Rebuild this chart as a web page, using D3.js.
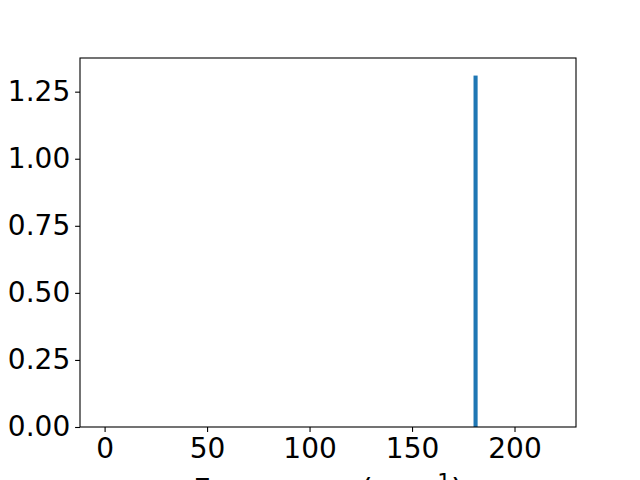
<!DOCTYPE html>
<html lang="en">
<head>
  <meta charset="UTF-8" />
  <title>Spectrum</title>
  <script src="https://d3js.org/d3.v7.min.js"></script>
  <style>
    body { margin: 0; background: #fff; }
    svg text { font-family: "DejaVu Sans", sans-serif; fill: #000; }
  </style>
</head>
<body>
  <svg width="640" height="480"></svg>
  <script>
    // data
    const frequencies = [181];
    const intensities = [1.31];
    const barWidth = 2;
    const xTicks = [0, 50, 100, 150, 200];
    const yTicks = [0, 0.25, 0.5, 0.75, 1.0, 1.25];

    const svg = d3.select("svg");
    const m = { left: 80, right: 576, top: 58, bottom: 427 };
    const fs = 28;

    const x = d3.scaleLinear().domain([-12, 230]).range([m.left, m.right]);
    const y = d3.scaleLinear().domain([0, 1.31 * 1.05]).range([m.bottom, m.top]);

    // bars
    svg.selectAll("rect.bar")
      .data(frequencies)
      .enter()
      .append("rect")
      .attr("class", "bar")
      .attr("x", (d) => x(d - barWidth / 2))
      .attr("width", (d) => x(d + barWidth / 2) - x(d - barWidth / 2))
      .attr("y", (d, i) => y(intensities[i]))
      .attr("height", (d, i) => y(0) - y(intensities[i]))
      .attr("fill", "#1f77b4");

    // axes
    const xAxis = d3.axisBottom(x).tickValues(xTicks).tickSize(4.9).tickPadding(4.9).tickFormat(d3.format("d"));
    const yAxis = d3.axisLeft(y).tickValues(yTicks).tickSize(4.9).tickPadding(4.9).tickFormat(d3.format(".2f"));

    const gx = svg.append("g").attr("transform", `translate(0,${m.bottom})`).call(xAxis);
    const gy = svg.append("g").attr("transform", `translate(${m.left},0)`).call(yAxis);
    [gx, gy].forEach((g) => {
      g.attr("font-size", fs).attr("font-family", "DejaVu Sans");
      g.select(".domain").remove();
      g.selectAll(".tick line").attr("stroke", "#000").attr("stroke-width", 1.1);
      g.selectAll(".tick text").attr("fill", "#000");
    });
    gx.selectAll(".tick text").attr("dy", "0.76em");

    // frame
    svg.append("rect")
      .attr("x", m.left).attr("y", m.top)
      .attr("width", m.right - m.left).attr("height", m.bottom - m.top)
      .attr("fill", "none").attr("stroke", "#000").attr("stroke-width", 1.1);

    // x label (mostly below the bottom edge, as in the reference)
    const label = svg.append("text")
      .attr("x", (m.left + m.right) / 2)
      .attr("y", 500)
      .attr("font-size", 30.6)
      .attr("text-anchor", "middle");
    label.append("tspan").text("Frequency (");
    label.append("tspan").attr("font-style", "italic").text("cm");
    label.append("tspan").attr("dy", -11.5).attr("font-size", 21.4).text("−1");
    label.append("tspan").attr("dy", 11.5).text(")");
  </script>
</body>
</html>
